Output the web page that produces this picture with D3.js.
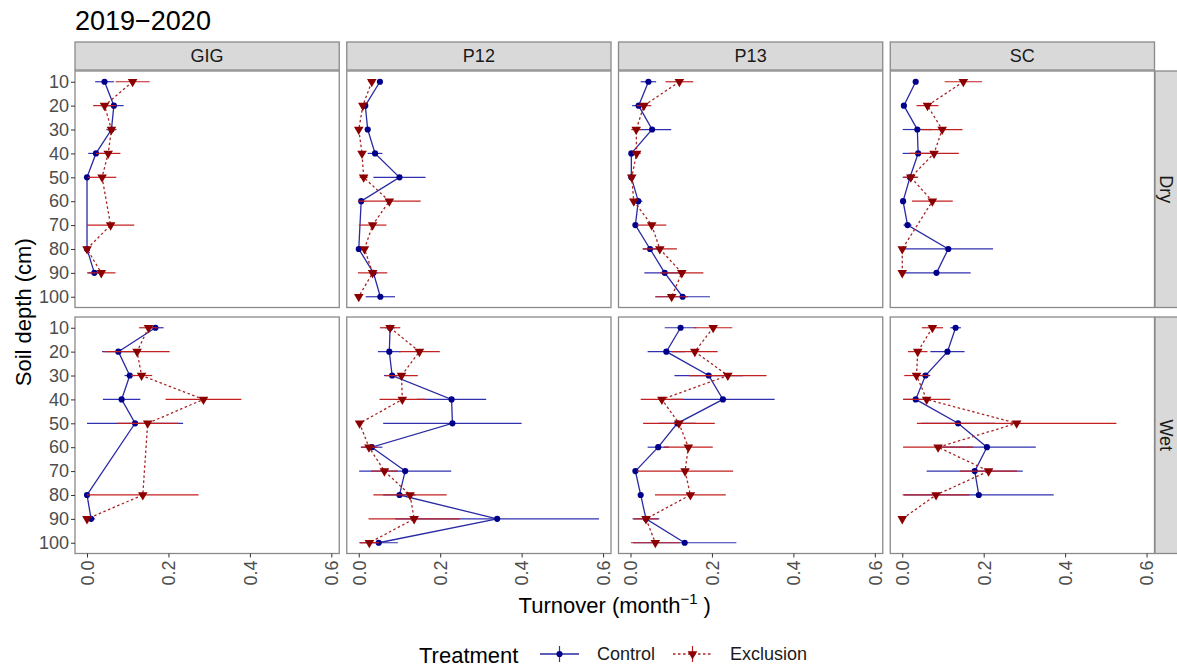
<!DOCTYPE html>
<html>
<head>
<meta charset="utf-8">
<script src="https://cdn.jsdelivr.net/npm/d3@7"></script>
<style>
  body { margin: 0; background: #fff; }
  svg { font-family: "Liberation Sans", Arial, sans-serif; }
</style>
</head>
<body>
<div id="chart"></div>
<script>
// depths (cm) and facets
const depths = [10, 20, 30, 40, 50, 60, 70, 80, 90, 100];
const sites = ["GIG", "P12", "P13", "SC"];
const seasons = ["Dry", "Wet"];
const treatments = ["Control", "Exclusion"];
const xTicks = [0, 0.2, 0.4, 0.6];

// mean turnover (month^-1) by depth, null = no data; *_se = standard error
const ctrlDryGIG   = [0.043, 0.066, 0.060, 0.022, 0.000, null, null, 0.000, 0.018, null];
const ctrlDryGIGse = [0.023, 0.024, 0.012, 0.019, 0.000, null, null, 0.000, 0.015, null];
const exclDryGIG   = [0.112, 0.043, 0.060, 0.052, 0.037, null, 0.058, 0.000, 0.035, null];
const exclDryGIGse = [0.042, 0.028, 0.012, 0.030, 0.035, null, 0.058, 0.000, 0.035, null];

const ctrlDryP12   = [0.052, 0.016, 0.022, 0.040, 0.100, 0.006, null, 0.000, 0.036, 0.053];
const ctrlDryP12se = [0.004, 0.004, 0.004, 0.018, 0.064, 0.004, null, 0.000, 0.010, 0.036];
const exclDryP12   = [0.032, 0.010, 0.000, 0.008, 0.012, 0.075, 0.034, 0.014, 0.034, 0.000];
const exclDryP12se = [0.008, 0.004, 0.000, 0.004, 0.010, 0.077, 0.034, 0.006, 0.036, 0.000];

const ctrlDryP13   = [0.044, 0.020, 0.053, 0.002, 0.002, 0.019, 0.012, 0.048, 0.084, 0.128];
const ctrlDryP13se = [0.019, 0.016, 0.047, 0.002, 0.002, 0.010, 0.004, 0.018, 0.050, 0.067];
const exclDryP13   = [0.120, 0.033, 0.014, 0.015, 0.003, 0.008, 0.052, 0.072, 0.126, 0.101];
const exclDryP13se = [0.034, 0.018, 0.012, 0.010, 0.003, 0.006, 0.036, 0.042, 0.053, 0.040];

const ctrlDrySC    = [0.033, 0.004, 0.037, 0.039, 0.019, 0.002, 0.013, 0.113, 0.084, null];
const ctrlDrySCse  = [0.004, 0.003, 0.036, 0.038, 0.018, 0.002, 0.010, 0.110, 0.084, null];
const exclDrySC    = [0.150, 0.062, 0.098, 0.078, 0.021, 0.074, null, 0.000, 0.000, null];
const exclDrySCse  = [0.046, 0.027, 0.050, 0.061, 0.018, 0.050, null, 0.000, 0.000, null];

const ctrlWetGIG   = [0.168, 0.077, 0.105, 0.085, 0.118, null, null, 0.000, 0.010, null];
const ctrlWetGIGse = [0.020, 0.040, 0.013, 0.046, 0.118, null, null, 0.000, 0.010, null];
const exclWetGIG   = [0.151, 0.123, 0.134, 0.286, 0.149, null, null, 0.137, 0.000, null];
const exclWetGIGse = [0.023, 0.080, 0.026, 0.093, 0.075, null, null, 0.137, 0.000, null];

const ctrlWetP12   = [0.077, 0.075, 0.082, 0.228, 0.230, 0.032, 0.114, 0.100, 0.340, 0.049];
const ctrlWetP12se = [0.012, 0.028, 0.020, 0.085, 0.170, 0.026, 0.113, 0.040, 0.250, 0.047];
const exclWetP12   = [0.077, 0.149, 0.105, 0.107, 0.002, 0.025, 0.063, 0.126, 0.136, 0.026];
const exclWetP12se = [0.025, 0.050, 0.040, 0.056, 0.002, 0.020, 0.033, 0.090, 0.112, 0.024];

const ctrlWetP13   = [0.123, 0.088, 0.192, 0.227, 0.115, 0.068, 0.012, 0.025, 0.038, 0.133];
const ctrlWetP13se = [0.039, 0.046, 0.084, 0.127, 0.046, 0.026, 0.004, 0.006, 0.033, 0.127];
const exclWetP13   = [0.203, 0.158, 0.239, 0.077, 0.119, 0.142, 0.134, 0.147, 0.038, 0.061];
const exclWetP13se = [0.047, 0.056, 0.095, 0.052, 0.088, 0.060, 0.118, 0.087, 0.030, 0.060];

const ctrlWetSC    = [0.131, 0.111, 0.057, 0.033, 0.137, 0.208, 0.178, 0.188, null, null];
const ctrlWetSCse  = [0.013, 0.042, 0.012, 0.030, 0.090, 0.120, 0.118, 0.184, null, null];
const exclWetSC    = [0.074, 0.038, 0.035, 0.060, 0.281, 0.088, 0.212, 0.083, 0.000, null];
const exclWetSCse  = [0.026, 0.024, 0.030, 0.058, 0.245, 0.086, 0.070, 0.082, 0.000, null];

// lookup table built from the arrays above
const table = {
  Dry: {
    GIG: [[ctrlDryGIG, ctrlDryGIGse], [exclDryGIG, exclDryGIGse]],
    P12: [[ctrlDryP12, ctrlDryP12se], [exclDryP12, exclDryP12se]],
    P13: [[ctrlDryP13, ctrlDryP13se], [exclDryP13, exclDryP13se]],
    SC:  [[ctrlDrySC, ctrlDrySCse],   [exclDrySC, exclDrySCse]]
  },
  Wet: {
    GIG: [[ctrlWetGIG, ctrlWetGIGse], [exclWetGIG, exclWetGIGse]],
    P12: [[ctrlWetP12, ctrlWetP12se], [exclWetP12, exclWetP12se]],
    P13: [[ctrlWetP13, ctrlWetP13se], [exclWetP13, exclWetP13se]],
    SC:  [[ctrlWetSC, ctrlWetSCse],   [exclWetSC, exclWetSCse]]
  }
};

const width = 1177, height = 668;
const left = 75, right = 1154.5, gap = 7.5;
const pw = (right - left - gap * 3) / 4;
const rowTop = [71, 317], ph = 236.5;

const col = {
  Control:   {pt: "#00008b", line: "#2a2aa3", err: "#3030b0", dash: null},
  Exclusion: {pt: "#8b0000", line: "#a82424", err: "#c21f1f", dash: "2.5,2.5"}
};

const x = d3.scaleLinear().domain([-0.0295, 0.6195]).range([0, pw]);
const y = d3.scaleLinear().domain([5.5, 104.5]).range([0, ph]);

const svg = d3.select("#chart").append("svg")
    .attr("width", width)
    .attr("height", height);

svg.append("text")
    .attr("x", 75).attr("y", 30)
    .attr("font-size", 27)
    .attr("fill", "#000")
    .text("2019\u22122020");

const tri = d3.symbol().type(d3.symbolTriangle).size(40);
const dot = d3.symbol().type(d3.symbolCircle).size(30);

seasons.forEach((season, r) => {
  sites.forEach((site, c) => {
    const gx = left + c * (pw + gap), gy = rowTop[r];
    const g = svg.append("g").attr("transform", `translate(${gx},${gy})`);

    g.append("rect")
        .attr("width", pw).attr("height", ph)
        .attr("fill", "#fff");

    treatments.forEach((tr, k) => {
      const [m, se] = table[season][site][k];
      const pts = depths.map((d, i) => ({d, v: m[i], e: se[i]})).filter(p => p.v != null);
      const st = col[tr];

      g.append("g").selectAll("line")
        .data(pts.filter(p => p.e > 0))
        .join("line")
          .attr("x1", p => x(p.v - p.e))
          .attr("x2", p => x(p.v + p.e))
          .attr("y1", p => y(p.d))
          .attr("y2", p => y(p.d))
          .attr("stroke", st.err)
          .attr("stroke-width", 1.2);

      g.append("path")
          .datum(pts)
          .attr("d", d3.line().x(p => x(p.v)).y(p => y(p.d)))
          .attr("fill", "none")
          .attr("stroke", st.line)
          .attr("stroke-width", 1.3)
          .attr("stroke-dasharray", st.dash);

      g.append("g").selectAll("path")
        .data(pts)
        .join("path")
          .attr("d", tr == "Control" ? dot : tri)
          .attr("transform", p => `translate(${x(p.v)},${y(p.d)})` + (tr == "Control" ? "" : " rotate(180)"))
          .attr("fill", st.pt);
    });

    g.append("rect")
        .attr("width", pw).attr("height", ph)
        .attr("fill", "none")
        .attr("stroke", "#8a8a8a")
        .attr("stroke-width", 1.3);

    // y axis on the first column
    if (c == 0) {
      g.append("g")
          .call(d3.axisLeft(y).tickValues(depths).tickSize(4).tickPadding(2))
          .call(a => a.select(".domain").remove())
          .call(a => a.selectAll(".tick line").attr("stroke", "#333"))
          .call(a => a.selectAll(".tick text")
              .attr("fill", "#4d4d4d")
              .attr("font-size", 18)
              .attr("font-family", "Liberation Sans, Arial, sans-serif"));
    }

    // x axis on the bottom row
    if (r == 1) {
      g.append("g")
          .attr("transform", `translate(0,${ph})`)
          .call(d3.axisBottom(x).tickValues(xTicks).tickFormat(d3.format(".1f")).tickSize(4))
          .call(a => a.select(".domain").remove())
          .call(a => a.selectAll(".tick line").attr("stroke", "#333"))
          .call(a => a.selectAll(".tick text")
              .attr("transform", "rotate(-90)")
              .attr("x", -7).attr("y", 0).attr("dy", "0.35em")
              .style("text-anchor", "end")
              .attr("fill", "#4d4d4d")
              .attr("font-size", 18)
              .attr("font-family", "Liberation Sans, Arial, sans-serif"));
    }

    // top strips
    if (r == 0) {
      svg.append("rect")
          .attr("x", gx).attr("y", 42)
          .attr("width", pw).attr("height", 28)
          .attr("fill", "#d9d9d9")
          .attr("stroke", "#8a8a8a")
          .attr("stroke-width", 1.3);
      svg.append("text")
          .attr("x", gx + pw / 2).attr("y", 56)
          .attr("dy", "0.35em")
          .attr("text-anchor", "middle")
          .attr("font-size", 18)
          .attr("fill", "#1a1a1a")
          .text(site);
    }
  });

  // right strip
  svg.append("rect")
      .attr("x", right + 0.5).attr("y", rowTop[r])
      .attr("width", 28).attr("height", ph)
      .attr("fill", "#d9d9d9")
      .attr("stroke", "#8a8a8a")
      .attr("stroke-width", 1.3);
  svg.append("text")
      .attr("transform", `translate(${right + 12},${rowTop[r] + ph / 2}) rotate(90)`)
      .attr("dy", "0.35em")
      .attr("text-anchor", "middle")
      .attr("font-size", 18)
      .attr("fill", "#1a1a1a")
      .text(season);
});

// axis titles
svg.append("text")
    .attr("transform", `translate(31,${(rowTop[0] + rowTop[1] + ph) / 2}) rotate(-90)`)
    .attr("text-anchor", "middle")
    .attr("font-size", 22)
    .attr("fill", "#000")
    .text("Soil depth (cm)");

const xt = svg.append("text")
    .attr("x", (left + right) / 2).attr("y", 613)
    .attr("text-anchor", "middle")
    .attr("font-size", 22)
    .attr("fill", "#000");
xt.append("tspan").text("Turnover (month");
xt.append("tspan").attr("dy", -9).attr("font-size", 15).text("\u22121");
xt.append("tspan").attr("dy", 9).text(" )");

// legend
const lg = svg.append("g");
lg.append("text").attr("x", 419).attr("y", 663).attr("font-size", 22).attr("fill", "#000").text("Treatment");
const keys = [
  {tr: "Control", x0: 540, tx: 597},
  {tr: "Exclusion", x0: 673, tx: 730}
];
keys.forEach(k => {
  const st = col[k.tr];
  lg.append("line").attr("x1", k.x0).attr("x2", k.x0 + 39).attr("y1", 654).attr("y2", 654)
    .attr("stroke", st.line).attr("stroke-width", 1.3).attr("stroke-dasharray", st.dash);
  lg.append("line").attr("x1", k.x0 + 19.5).attr("x2", k.x0 + 19.5).attr("y1", 646).attr("y2", 662)
    .attr("stroke", st.err).attr("stroke-width", 1.2);
  lg.append("path")
    .attr("d", k.tr == "Control" ? dot : tri)
    .attr("transform", `translate(${k.x0 + 19.5},654)` + (k.tr == "Control" ? "" : " rotate(180)"))
    .attr("fill", st.pt);
  lg.append("text").attr("x", k.tx).attr("y", 660).attr("font-size", 18).attr("fill", "#1a1a1a").text(k.tr);
});
</script>
</body>
</html>
